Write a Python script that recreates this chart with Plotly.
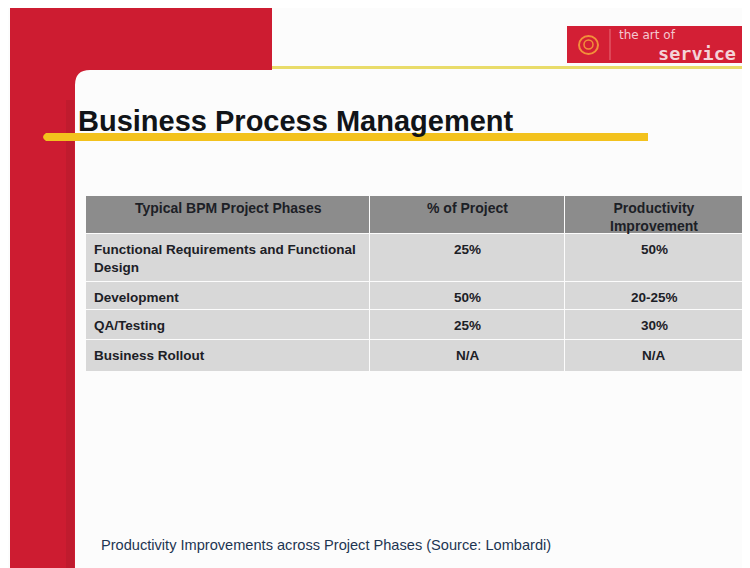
import plotly.graph_objects as go

# ---- data ----
title_text = "Business Process Management"
columns = ["Typical BPM Project Phases", "% of Project", "Productivity<br>Improvement"]
phases = ["Functional Requirements and Functional<br>Design", "Development", "QA/Testing", "Business Rollout"]
pct_of_project = ["25%", "50%", "25%", "N/A"]
productivity = ["50%", "20-25%", "30%", "N/A"]
caption = "Productivity Improvements across Project Phases (Source: Lombardi)"
logo_top = "the art of"
logo_bottom = "service"

# ---- layout geometry (page pixels; the page body adds an 8px offset) ----
OFF = 8
FW, FH = 750 - OFF, 568 - OFF
TABLE_X0, TABLE_Y0 = 86, 196
col_widths = [284, 195, 178]
row_heights = [38, 48, 28, 30, 32]


def fx(x):
    return x - OFF


def fy(y):
    return y - OFF


RED = "#CD1C31"
YELLOW = "#F3C21D"
TXT = "#1C2026"
FONT = "Liberation Sans"

# table grid edges
x_edges = [fx(TABLE_X0)]
for w in col_widths:
    x_edges.append(x_edges[-1] + w)
y_edges = [fy(TABLE_Y0)]
for h in row_heights:
    y_edges.append(y_edges[-1] + h)

body_cols = [phases, pct_of_project, productivity]
z = [[1] * len(columns)] + [[0] * len(columns) for _ in phases]

fig = go.Figure(go.Heatmap(
    x=x_edges, y=y_edges, z=z,
    colorscale=[[0, "#D8D8D8"], [1, "#8C8C8C"]],
    showscale=False, xgap=1, ygap=1, hoverinfo="skip",
))

annotations = []
# header texts
for j, c in enumerate(columns):
    cx = (x_edges[j] + x_edges[j + 1]) / 2
    annotations.append(dict(
        text=f"<b>{c}</b>", x=cx, y=y_edges[0] + 2, xref="x", yref="y",
        xanchor="center", yanchor="top", showarrow=False, align="center",
        font=dict(family=FONT, size=14, color=TXT)))
# body texts
for i in range(len(phases)):
    top = y_edges[i + 1]
    for j, col in enumerate(body_cols):
        if j == 0:
            ax, anc = x_edges[0] + 6, "left"
        else:
            ax, anc = (x_edges[j] + x_edges[j + 1]) / 2, "center"
        annotations.append(dict(
            text=f"<b>{col[i]}</b>", x=ax, y=top + 6, xref="x", yref="y",
            xanchor=anc, yanchor="top", showarrow=False, align="left",
            font=dict(family=FONT, size=13.5, color=TXT)))

shapes = []
red_path = (f"M {fx(10)},{fy(8)} L {fx(272)},{fy(8)} L {fx(272)},{fy(70)} "
            f"L {fx(90)},{fy(70)} Q {fx(75)},{fy(70)} {fx(75)},{fy(85)} "
            f"L {fx(75)},{fy(575)} L {fx(10)},{fy(575)} Z")
shapes.append(dict(type="path", xref="x", yref="y", path=red_path,
                   fillcolor=RED, line=dict(width=0), layer="below"))
shapes.append(dict(type="rect", xref="x", yref="y",
                   x0=fx(66), x1=fx(74), y0=fy(100), y1=fy(575),
                   fillcolor="#C01B2E", line=dict(width=0), layer="below"))
# thin yellow line
shapes.append(dict(type="rect", xref="x", yref="y",
                   x0=fx(272), x1=fx(755), y0=fy(66), y1=fy(69),
                   fillcolor="#E9DC6A", line=dict(width=0), layer="below"))
# title underline bar
bar = (f"M {fx(46)},{fy(133)} L {fx(648)},{fy(133)} L {fx(648)},{fy(141)} "
       f"L {fx(46)},{fy(141)} Q {fx(40)},{fy(137)} {fx(46)},{fy(133)} Z")
shapes.append(dict(type="path", xref="x", yref="y", path=bar,
                   fillcolor=YELLOW, line=dict(width=0)))
# logo
shapes.append(dict(type="rect", xref="x", yref="y",
                   x0=fx(567), x1=fx(745), y0=fy(26), y1=fy(63),
                   fillcolor="#D31F35", line=dict(width=0)))
shapes.append(dict(type="line", xref="x", yref="y",
                   x0=fx(610), x1=fx(610), y0=fy(29), y1=fy(60),
                   line=dict(color="#E8707C", width=1)))
shapes.append(dict(type="circle", xref="x", yref="y",
                   x0=fx(579), x1=fx(598), y0=fy(36), y1=fy(54),
                   line=dict(color="#F2903A", width=2)))
shapes.append(dict(type="circle", xref="x", yref="y",
                   x0=fx(584), x1=fx(593), y0=fy(40), y1=fy(49),
                   line=dict(color="#F2903A", width=1.5)))

annotations += [
    dict(text=f"<b>{title_text}</b>", x=fx(76), y=fy(121), xref="x", yref="y",
         xanchor="left", yanchor="middle", showarrow=False,
         font=dict(family=FONT, size=29, color="#111418")),
    dict(text=caption, x=fx(99), y=fy(545), xref="x", yref="y",
         xanchor="left", yanchor="middle", showarrow=False,
         font=dict(family=FONT, size=14.6, color="#1D3552")),
    dict(text=logo_top, x=fx(617), y=fy(35), xref="x", yref="y",
         xanchor="left", yanchor="middle", showarrow=False,
         font=dict(family="DejaVu Sans", size=12, color="#F4C8D0")),
    dict(text=f"<b>{logo_bottom}</b>", x=fx(738), y=fy(53), xref="x", yref="y",
         xanchor="right", yanchor="middle", showarrow=False,
         font=dict(family="DejaVu Sans Mono", size=18.5, color="#F4D2D8")),
]

fig.update_layout(
    width=FW, height=FH, autosize=False,
    margin=dict(l=0, r=0, t=0, b=0),
    paper_bgcolor="#FCFCFC", plot_bgcolor="#FCFCFC",
    xaxis=dict(range=[0, FW], visible=False, domain=[0, 1], fixedrange=True),
    yaxis=dict(range=[FH, 0], visible=False, domain=[0, 1], fixedrange=True),
    shapes=shapes, annotations=annotations,
)

fig.write_html("out.html")
